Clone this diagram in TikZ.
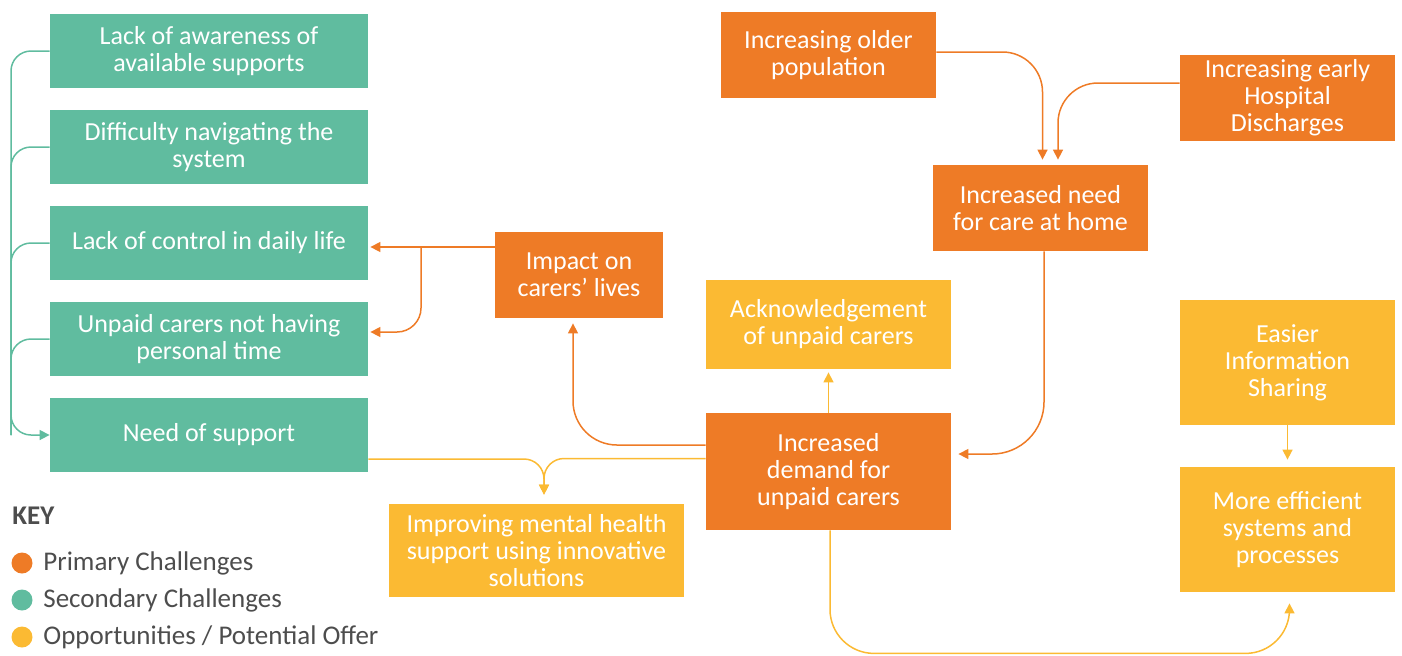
\documentclass[tikz,border=0pt]{standalone}
\usepackage{fontspec}
\setmainfont{Carlito}
\usetikzlibrary{arrows.meta}
\definecolor{cgreen}{HTML}{60BC9F}
\definecolor{corange}{HTML}{EE7B26}
\definecolor{cyellow}{HTML}{FBBA33}
\definecolor{ckey}{HTML}{4D4D4D}
\begin{document}
\begin{tikzpicture}[x=0.5pt,y=-0.5pt,
  box/.style={rectangle, inner sep=0pt, align=center, text=white,
    font=\fontsize{13}{13.5}\selectfont},
  gbox/.style={box, fill=cgreen, minimum width=159pt, minimum height=37pt},
  obox/.style={box, fill=corange},
  ybox/.style={box, fill=cyellow},
  tip/.style={-{Triangle[length=5pt,width=5pt]}},
  gline/.style={draw=cgreen, line width=0.75pt},
  oline/.style={draw=corange, line width=0.75pt},
  yline/.style={draw=cyellow, line width=0.75pt},
  keydot/.style={circle, inner sep=0pt, minimum size=10.5pt},
  keytext/.style={anchor=west, inner sep=0pt, text=ckey, font=\fontsize{13.5}{15}\selectfont}
]
\useasboundingbox (0,0) rectangle (1402,655);

% green boxes
\node[gbox] (g1) at (209,51) {Lack of awareness of\\available supports};
\node[gbox] (g2) at (209,147) {Difficulty navigating the\\system};
\node[gbox] (g3) at (209,243) {\raisebox{2pt}{Lack of control in daily life}};
\node[gbox] (g4) at (209,339) {Unpaid carers not having\\personal time};
\node[gbox] (g5) at (209,435) {Need of support};

% orange boxes
\node[obox, minimum width=84pt, minimum height=43pt] (impact) at (579,275) {Impact on\\carers’ lives};
\node[obox, minimum width=107.5pt, minimum height=43pt] (older) at (828.5,55) {Increasing older\\population};
\node[obox, minimum width=107.5pt, minimum height=43pt] (hosp) at (1287.5,98) {Increasing early\\Hospital\\Discharges};
\node[obox, minimum width=107.5pt, minimum height=43pt] (needhome) at (1040.5,208) {Increased need\\for care at home};
\node[obox, minimum width=122.5pt, minimum height=58.5pt] (demand) at (828.5,471.5) {Increased\\demand for\\unpaid carers};

% yellow boxes
\node[ybox, minimum width=122.5pt, minimum height=44.5pt] (ack) at (828.5,324.5) {Acknowledgement\\of unpaid carers};
\node[ybox, minimum width=107.5pt, minimum height=62.5pt] (easier) at (1287.5,362.5) {Easier\\Information\\Sharing};
\node[ybox, minimum width=107.5pt, minimum height=62.5pt] (efficient) at (1287.5,529.5) {More efficient\\systems and\\processes};
\node[ybox, minimum width=147.5pt, minimum height=46.5pt] (mental) at (536.5,550.5) {Improving mental health\\support using innovative\\solutions};

% green bracket
\coordinate (gb) at (11,435);
\draw[gline, tip, rounded corners=10pt] (g1.west) -| (gb) -- (g5.west);
\draw[gline, rounded corners=10pt] (g2.west) -| (gb);
\draw[gline, rounded corners=10pt] (g3.west) -| (gb);
\draw[gline, rounded corners=10pt] (g4.west) -| (gb);

% impact to green
\coordinate (br) at (421,247);
\draw[oline, tip, shorten >=1pt] ([yshift=14pt]impact.west) -- ([yshift=-2pt]g3.east);
\draw[oline, tip, rounded corners=12pt, shorten >=1pt] (br) |- ([yshift=3.5pt]g4.east);

% demand to impact
\draw[oline, tip, rounded corners=22pt, shorten >=2.5pt] ([yshift=13.25pt]demand.west) -| ([xshift=-3pt]impact.south);

% to mental
\draw[yline, tip, rounded corners=10pt, shorten >=4.5pt] ([yshift=6.5pt]demand.west) -| ([xshift=3.75pt]mental.north);
\draw[yline, tip, rounded corners=10pt, shorten >=4.5pt] ([yshift=-12pt]g5.east) -| ([xshift=3.75pt]mental.north);

% demand to ack
\draw[yline, tip, shorten >=1.5pt] (demand.north) -- (ack.south);

% need home to demand
\draw[oline, tip, rounded corners=26pt, shorten >=3.5pt] ([xshift=1.75pt]needhome.south) |- ([yshift=8.75pt]demand.east);

% older / hospital to need home
\draw[oline, tip, rounded corners=20pt, shorten >=2.5pt] ([yshift=1.5pt]older.east) -| ([xshift=1pt]needhome.north);
\draw[oline, tip, rounded corners=20pt, shorten >=2.5pt] ([yshift=7.5pt]hosp.west) -| ([xshift=8.75pt]needhome.north);

% easier to efficient
\draw[yline, tip, shorten >=3.5pt] (easier.south) -- (efficient.north);

% demand to efficient
\draw[yline, tip, rounded corners=22pt, shorten >=5.5pt] ([xshift=0.75pt]demand.south) |- ([xshift=1pt,yshift=-30.5pt]efficient.south) -- ([xshift=1pt]efficient.south);

% key
\node[anchor=west, inner sep=0pt, text=ckey, font=\fontsize{13.5}{15}\selectfont\bfseries] (key) at (12,516) {KEY};
\node[keydot, fill=corange] (k1) at (22,563) {};
\node[keydot, fill=cgreen] (k2) at (22,600) {};
\node[keydot, fill=cyellow] (k3) at (22,637) {};
\node[keytext] (k1t) at (43,563) {Primary Challenges};
\node[keytext] (k2t) at (43,600) {Secondary Challenges};
\node[keytext] (k3t) at (43,637) {Opportunities / Potential Offer};
\end{tikzpicture}
\end{document}
